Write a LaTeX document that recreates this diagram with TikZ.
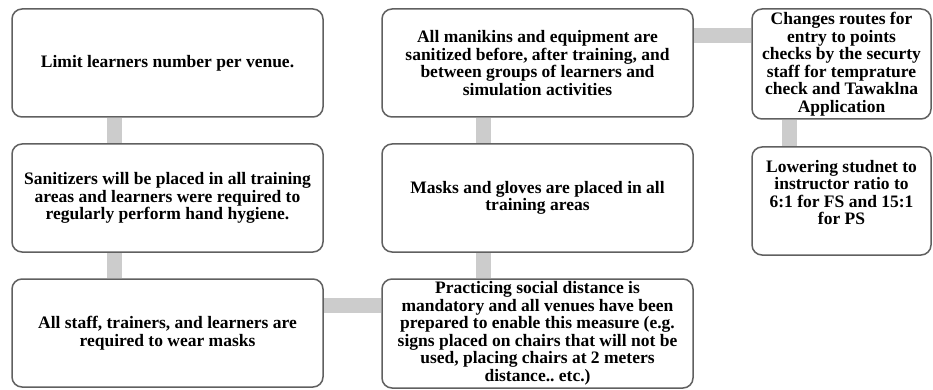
\documentclass[tikz,border=0pt]{standalone}
\usepackage{fontspec}
\setmainfont{Liberation Serif}
\usetikzlibrary{backgrounds}
\definecolor{boxline}{HTML}{606060}
\definecolor{linkgray}{HTML}{CCCCCC}
\frenchspacing
\begin{document}
\begin{tikzpicture}[x=1pt,y=-1pt,
  box/.style={draw=boxline, line width=1.5pt, rounded corners=10pt, fill=white,
    align=center, inner sep=0pt, font=\fontsize{17.5}{17.5}\selectfont\bfseries},
  link/.style={draw=linkgray, line width=15pt}]
\useasboundingbox (0,0) rectangle (933,390);
\node[box, minimum width=311pt, minimum height=108pt] (b1) at (167.5,63)
  {Limit learners number per venue.};
\node[box, minimum width=311pt, minimum height=108pt] (b2) at (167.5,198)
  {Sanitizers will be placed in all training\\ areas and learners were required to\\ regularly perform hand hygiene.};
\node[box, minimum width=311pt, minimum height=108pt] (b3) at (167.5,333)
  {All staff, trainers, and learners are\\ required to wear masks};
\node[box, minimum width=311pt, minimum height=108pt] (b4) at (537.5,63)
  {All manikins and equipment are\\ sanitized before, after training, and\\ between groups of learners and\\ simulation activities};
\node[box, minimum width=311pt, minimum height=108pt] (b5) at (537.5,198)
  {Masks and gloves are placed in all\\ training areas};
\node[box, minimum width=311pt, minimum height=109pt] (b6) at (537.5,333.5)
  {Practicing social distance is\\ mandatory and all venues have been\\ prepared to enable this measure (e.g.\\ signs placed on chairs that will not be\\ used, placing chairs at 2 meters\\ distance.. etc.)};
\node[box, minimum width=179pt, minimum height=110pt] (b7) at (841.5,64)
  {Changes routes for\\ entry to points\\ checks by the securty\\ staff for temprature\\ check and Tawaklna\\ Application};
\node[box, minimum width=179pt, minimum height=108pt] (b8) at (841.5,201)
  {Lowering studnet to\\ instructor ratio to\\ 6:1 for FS and 15:1\\ for PS\\ ~};
\begin{scope}[on background layer]
\fill[white] (0,0) rectangle (933,390);
\draw[link] ([xshift=-53pt]b1.south) -- ([xshift=-53pt]b2.north);
\draw[link] ([xshift=-53pt]b2.south) -- ([xshift=-53pt]b3.north);
\draw[link] ([yshift=27.5pt]b3.east) -- ([yshift=28pt]b6.west);
\draw[link] ([xshift=-54pt]b6.north) -- ([xshift=-54pt]b5.south);
\draw[link] ([xshift=-54pt]b5.north) -- ([xshift=-54pt]b4.south);
\draw[link] ([yshift=27pt]b4.east) -- ([yshift=28pt]b7.west);
\draw[link] ([xshift=-52.5pt]b7.south) -- ([xshift=-52.5pt]b8.north);
\end{scope}
\end{tikzpicture}
\end{document}
